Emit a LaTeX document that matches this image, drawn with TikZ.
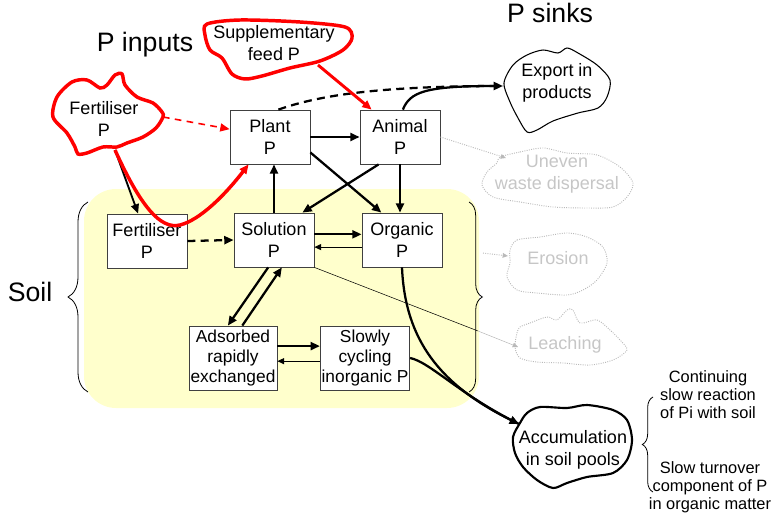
\documentclass[tikz,border=0pt]{standalone}
\usepackage{fontspec}
\setmainfont{Liberation Sans}
\usetikzlibrary{arrows.meta}
\usetikzlibrary{decorations.pathreplacing}
\definecolor{soilyellow}{RGB}{255,255,204}

\begin{document}
\begin{tikzpicture}[x=0.75pt,y=-0.75pt,>={Triangle[length=7pt,width=6pt]},
pool/.style={draw=black!75,fill=white,line width=0.6pt,align=center,inner sep=1pt,
  font=\fontsize{13.5}{16.5}\selectfont,minimum width=60pt,minimum height=40.5pt},
small pool/.style={pool,font=\fontsize{13}{15}\selectfont,minimum height=48pt},
cloud text/.style={align=center,inner sep=0pt,font=\fontsize{13.5}{16.5}\selectfont},
faint text/.style={cloud text,text=gray!45},
note/.style={align=center,inner sep=0pt,font=\fontsize{12.3}{13.5}\selectfont},
title/.style={inner sep=0pt,font=\fontsize{20}{24}\selectfont},
flow/.style={->,line width=1.7pt},
weak flow/.style={-{Triangle[length=5pt,width=4.5pt]},line width=0.7pt},
input flow/.style={->,red,line width=2.2pt},
loss flow/.style={-{Triangle[length=4pt,width=3.5pt]},gray!55,densely dotted,line width=0.7pt},
red cloud/.style={red,line width=2.6pt},
faint cloud/.style={gray!55,densely dotted,line width=0.7pt},
curly/.style={decorate,decoration={brace,amplitude=#1},line width=0.6pt},
curly/.default=10pt]
\useasboundingbox (0,0) rectangle (779,517);
% The soil
\fill[soilyellow,rounded corners=24pt] (84,189) rectangle (479,408);
\draw[curly=15pt] (88,392) -- (88,202);
\draw[curly=10pt] (469,202) -- (469,392);
\node[title] (soil) at (30,292) {Soil};
% Headings
\node[title] (inputs) at (145,45) {P inputs};
\node[title] (sinks) at (550,13) {P sinks};

% The P pools
\node[pool] (plant) at (270,137) {Plant\\P};
\node[pool] (animal) at (400,137) {Animal\\P};
\node[pool] (fertsoil) at (147,241) {Fertiliser\\P};
\node[pool] (solution) at (274,240) {Solution\\P};
\node[pool] (organic) at (402,240) {Organic\\P};
\node[small pool,minimum width=66pt] (adsorbed) at (233,358) {Adsorbed\\rapidly\\exchanged};
\node[small pool,minimum width=63pt] (slowly) at (365,358) {Slowly\\cycling\\inorganic P};

% The inputs
\draw[red cloud] plot[smooth cycle] coordinates {(207,24) (240,20) (300,22) (345,27) (352,38)
  (343,50) (320,61) (290,68) (262,76) (245,79) (232,74) (222,58) (210,50) (205,35)};
\node[cloud text] (feed) at (274,43) {Supplementary\\feed P};
\coordinate (feed-s) at (318,65);
\draw[red cloud] plot[smooth cycle] coordinates {(57,97) (72,82) (87,80) (100,88) (107,85)
  (115,75) (122,74) (125,85) (137,97) (153,103) (162,112) (163,117) (156,128) (143,137)
  (127,143) (117,147) (103,147) (87,153) (78,154) (75,147) (67,133) (53,117)};
\node[cloud text] (fertin) at (104,119) {Fertiliser\\P};
\coordinate (fertin-e) at (163,117);
\coordinate (fertin-s) at (115,150);

% The sinks
\draw[line width=0.8pt] plot[smooth cycle] coordinates {(504,83) (513,65) (527,55) (543,50)
  (558,53) (567,48) (578,53) (597,65) (610,80) (607,97) (598,108) (578,113) (553,121)
  (537,130) (527,132) (518,118) (510,102)};
\node[cloud text] (export) at (557,83) {Export in\\products};
\coordinate (export-w) at (503,86);
\draw[faint cloud] plot[smooth cycle] coordinates {(500,157) (520,152) (543,148) (567,153)
  (597,155) (620,167) (633,183) (627,197) (613,207) (587,208) (553,207) (520,202) (493,197)
  (482,185) (487,172) (497,163)};
\node[faint text] (waste) at (557,174) {Uneven\\waste dispersal};
\coordinate (waste-w) at (506,158);
\draw[faint cloud] plot[smooth cycle] coordinates {(510,250) (517,240) (540,237) (567,233)
  (587,237) (603,247) (607,263) (597,280) (583,290) (567,295) (537,293) (517,290) (507,277)
  (510,263)};
\node[faint text] (erosion) at (558,258) {Erosion};
\coordinate (erosion-w) at (508,256);
\coordinate (brace-e) at (483,253);
\draw[faint cloud] plot[smooth cycle] coordinates {(520,327) (530,323) (547,317) (557,320)
  (567,310) (573,310) (580,323) (597,320) (610,330) (620,340) (627,350) (613,360) (590,365)
  (563,363) (537,362) (520,358) (515,347) (517,333)};
\node[faint text] (leaching) at (565,345) {Leaching};
\coordinate (leach-w) at (518,347);
\coordinate (soil-edge) at (478,331);
\draw[line width=1.6pt] plot[smooth cycle] coordinates {(527,413) (540,407) (567,408)
  (587,405) (613,410) (627,420) (632,440) (627,460) (613,473) (587,477) (567,483) (553,488)
  (537,480) (523,467) (515,453) (513,437) (520,423)};
\node[cloud text] (accum) at (573,450) {Accumulation\\in soil pools};
\coordinate (accum-nw) at (519,424);

% Slow processes behind the accumulation
\draw[curly=8pt] (653,492) -- (653,397);
\node[note] (reaction) at (708,395) {Continuing\\slow reaction\\of Pi with soil};
\node[note] (turnover) at (710,487) {Slow turnover\\component of P\\in organic matter};

% Flows between the pools
\draw[flow] (plant.east) -- (animal.west);
\draw[flow] (plant.-21) -- (organic.127);
\draw[flow] (animal.232) -- (solution.44);
\draw[flow] (animal.south) -- (animal.south |- organic.north);
\draw[flow] (solution.north) -- (solution.north |- plant.south);
\draw[flow] (solution.8) -- (solution.8 -| organic.west);
\draw[weak flow] (organic.190) -- (organic.190 -| solution.east);
\draw[flow,dash pattern=on 6pt off 4pt] (fertsoil.east) -- (solution.west);
\draw[flow] (solution.258) -- (adsorbed.99);
\draw[flow] (adsorbed.74) -- (solution.286);
\draw[flow] (adsorbed.15) -- (adsorbed.15 -| slowly.west);
\draw[weak flow] (slowly.184) -- (slowly.184 -| adsorbed.east);

% Flows to the sinks
\draw[flow] (animal.84) .. controls (410,92) and (425,86) .. (export-w);
\draw[line width=1.7pt,dash pattern=on 6pt off 4pt] (plant.73) .. controls (320,95) and (380,86) .. (export-w);
\draw[loss flow] (animal.east) -- (waste-w);
\draw[loss flow] (brace-e) -- (erosion-w);
\draw[line width=0.4pt] (solution.south east) -- (soil-edge);
\draw[loss flow,solid,line width=0.4pt] (soil-edge) -- (leach-w);
\draw[flow] (organic.south) .. controls (405,340) and (440,385) .. (accum-nw);
\draw[line width=1.7pt] (slowly.east) .. controls (430,362) and (460,395) .. (accum-nw);

% Flows from the inputs
\draw[flow,line width=1.4pt] (fertin-s) -- (fertsoil.108);
\draw[input flow,line width=1.2pt,dash pattern=on 5pt off 4pt] (fertin-e) -- (plant.169);
\draw[input flow] (feed-s) -- (animal.136);
\draw[input flow,line width=2.6pt] (fertin-s) .. controls (140,205) and (160,230) .. (180,225)
  .. controls (200,220) and (225,195) .. (plant.232);
\end{tikzpicture}
\end{document}
